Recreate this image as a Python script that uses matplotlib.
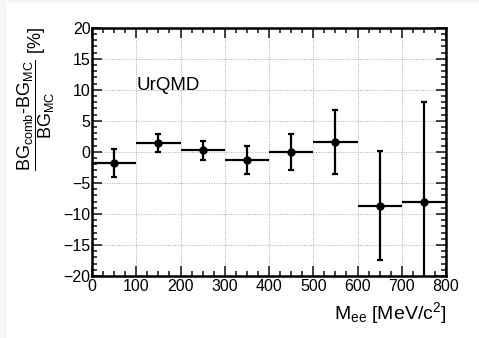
import matplotlib
matplotlib.use("Agg")
import matplotlib.pyplot as plt
from matplotlib.ticker import MultipleLocator
from matplotlib.patches import Rectangle

plt.rcParams['font.family'] = ['Liberation Sans', 'DejaVu Sans']
plt.rcParams['mathtext.fontset'] = 'custom'
plt.rcParams['mathtext.rm'] = 'Liberation Sans'
plt.rcParams['mathtext.it'] = 'Liberation Sans:italic'
plt.rcParams['mathtext.bf'] = 'Liberation Sans:bold'

# Data
bin_centers = [50, 150, 250, 350, 450, 550, 650, 750]
bin_halfwidth = [50, 50, 50, 50, 50, 50, 50, 50]
values = [-1.8, 1.4, 0.25, -1.3, 0.0, 1.6, -8.7, -8.1]
errors = [2.2, 1.45, 1.5, 2.3, 2.9, 5.2, 8.8, 16.2]
xticks = [0, 100, 200, 300, 400, 500, 600, 700, 800]
yticks = [-20, -15, -10, -5, 0, 5, 10, 15, 20]

W, H = 479, 338
fig = plt.figure(figsize=(W / 100, H / 100), dpi=100)
fig.patch.set_facecolor('#f6f6f6')
fig.patches.append(Rectangle((7 / W, 0), 1 - 7 / W, 1 - 3 / H, transform=fig.transFigure,
                             facecolor='white', edgecolor='none', zorder=-10))

ax = fig.add_axes([92 / W, 1 - 276 / H, (446 - 92) / W, (276 - 27.7) / H])
ax.set_xlim(0, 800)
ax.set_ylim(-20, 20)

ax.grid(True, which='major', linestyle=(0, (1, 1.5)), color='#aaaaaa', linewidth=0.7)
ax.set_axisbelow(True)

ax.hlines(values, [c - w for c, w in zip(bin_centers, bin_halfwidth)],
          [c + w for c, w in zip(bin_centers, bin_halfwidth)], color='black', linewidth=1.6, zorder=3)
ax.errorbar(bin_centers, values, yerr=errors, fmt='o', color='black', markersize=5,
            elinewidth=1.6, capsize=2.5, capthick=1.6, zorder=4, clip_on=True)

ax.xaxis.set_major_locator(MultipleLocator(100))
ax.xaxis.set_minor_locator(MultipleLocator(25))
ax.yaxis.set_major_locator(MultipleLocator(5))
ax.yaxis.set_minor_locator(MultipleLocator(1))
ax.set_xticks(xticks)
ax.set_yticks(yticks)
ax.tick_params(which='both', direction='in', top=True, right=True, width=1.2, labelsize=11.5, color='#222222')
ax.tick_params(which='major', length=7, pad=1)
ax.tick_params(which='minor', length=3.5)
ax.tick_params(axis='x', which='major', pad=2.5)
for s in ax.spines.values():
    s.set_linewidth(1.8)

ax.text(100, 10, 'UrQMD', fontsize=13.5, ha='left', va='baseline')

fig.text(446 / W, 1 - 313 / H, r'M$_{\mathrm{ee}}$ [MeV/c$^{2}$]', fontsize=14, ha='right', va='center')
fig.text(36 / W, 1 - 27 / H,
         r'$\dfrac{\mathrm{BG_{comb}\text{-}BG_{MC}}}{\mathrm{BG_{MC}}}$ [%]',
         fontsize=13, rotation=90, ha='center', va='top')

fig.savefig('out.png', dpi=100)
